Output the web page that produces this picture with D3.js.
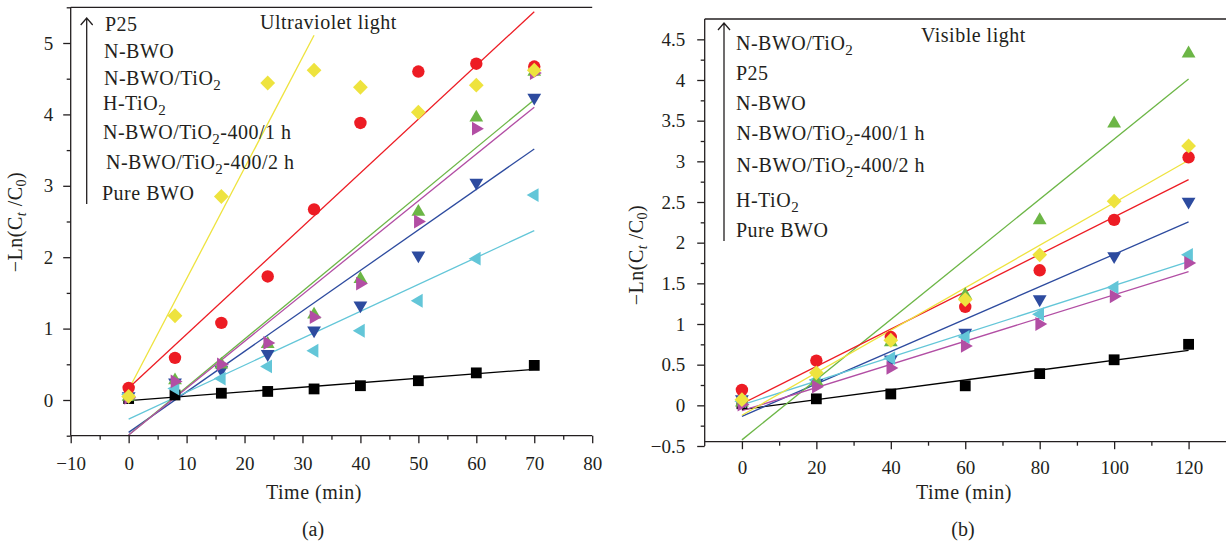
<!DOCTYPE html>
<html><head><meta charset="utf-8">
<script src="https://cdn.jsdelivr.net/npm/d3@7"></script>
<style>
body{margin:0;background:#fff}
svg{display:block}
text{font-family:'Liberation Serif','Times New Roman',serif;fill:#231f20}
.lbl{letter-spacing:0.5px}
</style>
</head><body><svg id="c" width="1226" height="544"></svg>
<script>
// ---------------- DATA ----------------
const seriesNames = ["P25","N-BWO","N-BWO/TiO2","H-TiO2","N-BWO/TiO2-400/1 h","N-BWO/TiO2-400/2 h","Pure BWO"];

// (a) Ultraviolet light
const uvTime     = [0,8,16,24,32,40,50,60,70];
const uvP25      = [0.05,1.18,2.85,4.44,4.62,4.38,4.03,4.41,4.62];
const uvNBWO     = [0.17,0.59,1.08,1.73,2.67,3.88,4.60,4.71,4.67];
const uvNBWOTiO2 = [0.05,0.28,0.50,0.79,1.20,1.70,2.64,3.96,4.60];
const uvHTiO2    = [0.03,0.26,0.50,0.80,1.16,1.63,2.50,3.80,4.58];
const uv400_1h   = [0.05,0.24,0.42,0.64,0.97,1.32,2.02,3.04,4.23];
const uv400_2h   = [0.08,0.16,0.30,0.47,0.69,0.97,1.39,1.98,2.87];
const uvPureBWO  = [0.02,0.07,0.095,0.12,0.155,0.20,0.27,0.38,0.485];
const uvFitCount = [5,9,9,9,9,9,9]; // number of leading points used by each linear fit
const uvLegend   = ["P25","N-BWO","N-BWO/TiO2","H-TiO2","N-BWO/TiO2-400/1 h","N-BWO/TiO2-400/2 h","Pure BWO"];

// (b) Visible light
const visTime     = [0,20,40,60,80,100,120];
const visNBWOTiO2 = [0.04,0.30,0.78,1.36,2.28,3.47,4.33];
const visP25      = [0.07,0.40,0.80,1.30,1.85,2.51,3.19];
const visNBWO     = [0.19,0.55,0.84,1.21,1.66,2.28,3.05];
const vis400_1h   = [0.07,0.27,0.56,0.89,1.30,1.83,2.50];
const vis400_2h   = [0.05,0.31,0.58,0.84,1.12,1.45,1.85];
const visHTiO2    = [0.01,0.23,0.46,0.73,1.00,1.34,1.75];
const visPureBWO  = [0.02,0.08,0.14,0.24,0.39,0.56,0.75];
const visFitCount = [7,7,7,7,7,7,7];
const visLegend   = ["N-BWO/TiO2","P25","N-BWO","N-BWO/TiO2-400/1 h","N-BWO/TiO2-400/2 h","H-TiO2","Pure BWO"];

// tick labels
const uvXTicks  = [-10,0,10,20,30,40,50,60,70,80];
const uvYTicks  = [0,1,2,3,4,5];
const visXTicks = [0,20,40,60,80,100,120];
const visYTicks = [-0.5,0,0.5,1,1.5,2,2.5,3,3.5,4,4.5];

// ---------------- STYLE ----------------
const styleOf = {
  "P25":               {color:"#eee33e", shape:"diamond"},
  "N-BWO":             {color:"#ed1c24", shape:"circle"},
  "N-BWO/TiO2":        {color:"#6cb646", shape:"up"},
  "H-TiO2":            {color:"#b24ea4", shape:"right"},
  "N-BWO/TiO2-400/1 h":{color:"#2d4b9f", shape:"down"},
  "N-BWO/TiO2-400/2 h":{color:"#63c6d8", shape:"left"},
  "Pure BWO":          {color:"#000000", shape:"square"}
};
const drawOrder = ["Pure BWO","N-BWO/TiO2-400/1 h","N-BWO/TiO2-400/2 h","N-BWO/TiO2","H-TiO2","N-BWO","P25"];

function markerPath(shape){
  switch(shape){
    case "circle":  return d3.symbol(d3.symbolCircle, Math.PI*6.2*6.2)();
    case "square":  return "M-5.4,-5.4H5.4V5.4H-5.4Z";
    case "diamond": return "M0,-7.4L7.4,0L0,7.4L-7.4,0Z";
    case "up":      return "M0,-7.6L6.9,4.3L-6.9,4.3Z";
    case "down":    return "M0,7.6L6.9,-4.3L-6.9,-4.3Z";
    case "left":    return "M-7.6,0L4.3,-6.9L4.3,6.9Z";
    case "right":   return "M7.6,0L-4.3,-6.9L-4.3,6.9Z";
  }
}

function linFit(xs, ys){
  const n = xs.length, mx = d3.mean(xs), my = d3.mean(ys);
  let sxy = 0, sxx = 0;
  for(let i=0;i<n;i++){ sxy += (xs[i]-mx)*(ys[i]-my); sxx += (xs[i]-mx)*(xs[i]-mx); }
  const b = sxy/sxx; return {b, a: my - b*mx};
}

function rich(t, str, subSize, shift){
  const parts = str.split("TiO2"); let shifted = false;
  parts.forEach((p,i)=>{
    const seg = p + (i < parts.length-1 ? "TiO" : "");
    if(seg){ const s = t.append("tspan").text(seg); if(shifted){ s.attr("dy", -shift); shifted = false; } }
    if(i < parts.length-1){ t.append("tspan").attr("dy", shift).attr("font-size", subSize+"px").text("2"); shifted = true; }
  });
}

const svg = d3.select("#c");
const minus = v => v < 0 ? "\u2212" + Math.abs(v) : String(v);

function yTitle(x, y){
  const t = svg.append("text").attr("class","lbl").attr("transform", `translate(${x},${y}) rotate(-90)`)
    .attr("text-anchor","middle").attr("font-size","20px");
  t.append("tspan").text("\u2212Ln(C");
  t.append("tspan").attr("dy",4).attr("font-size","14px").attr("font-style","italic").text("t");
  t.append("tspan").attr("dy",-4).text(" /C");
  t.append("tspan").attr("dy",4).attr("font-size","14px").text("0");
  t.append("tspan").attr("dy",-4).text(")");
}

function panel(cfg){
  const g = svg.append("g");
  const x = cfg.x, y = cfg.y;
  // fit lines
  drawOrder.forEach(name=>{
    const i = cfg.names.indexOf(name);
    const ys = cfg.values[i], n = cfg.fitCount[i];
    const f = linFit(cfg.time.slice(0,n), ys.slice(0,n));
    const t0 = cfg.time[0], t1 = cfg.time[n-1];
    g.append("line")
      .attr("x1", x(t0)).attr("y1", y(f.a + f.b*t0))
      .attr("x2", x(t1)).attr("y2", y(f.a + f.b*t1))
      .attr("stroke", styleOf[name].color).attr("stroke-width", 1.3);
  });
  // markers
  drawOrder.forEach(name=>{
    const i = cfg.names.indexOf(name);
    const st = styleOf[name];
    g.selectAll(null).data(cfg.time.map((t,k)=>[t, cfg.values[i][k]])).enter()
      .append("path").attr("d", markerPath(st.shape))
      .attr("transform", d=>`translate(${x(d[0])},${y(d[1])})`)
      .attr("fill", st.color);
  });
  // axes
  const ax = g.append("g").attr("transform", `translate(0,${cfg.xAxisY})`);
  ax.call(d3.axisBottom(x).tickValues(cfg.xMinor).tickSize(4).tickSizeOuter(0).tickFormat(""));
  ax.append("g").call(d3.axisBottom(x).tickValues(cfg.xTicks).tickSize(7.5).tickSizeOuter(0)
      .tickPadding(cfg.xPad).tickFormat(minus));
  const ay = g.append("g").attr("transform", `translate(${x.range()[0]},0)`);
  ay.call(d3.axisLeft(y).tickValues(cfg.yMinor).tickSize(4).tickSizeOuter(0).tickFormat(""));
  ay.append("g").call(d3.axisLeft(y).tickValues(cfg.yTicks).tickSize(7.5).tickSizeOuter(0)
      .tickPadding(cfg.yPad).tickFormat(minus));
  [ax, ay].forEach(a=>{
    a.selectAll(".domain, line").attr("stroke","#231f20").attr("stroke-width",1.3);
    a.selectAll("text").attr("font-family","'Liberation Serif','Times New Roman',serif")
      .attr("font-size","19px").attr("fill","#231f20");
  });
  ay.selectAll(".domain").remove();
  ax.selectAll(".domain").remove();
  g.append("line").attr("x1",x.range()[0]).attr("x2",cfg.xEnd).attr("y1",cfg.xAxisY).attr("y2",cfg.xAxisY)
    .attr("stroke","#231f20").attr("stroke-width",1.3);
  g.append("line").attr("x1",x.range()[0]).attr("x2",x.range()[0]).attr("y1",y.range()[1]).attr("y2",y.range()[0])
    .attr("stroke","#231f20").attr("stroke-width",1.3);
  // top frame line
  g.append("line").attr("x1",x.range()[0]).attr("x2",cfg.xEnd).attr("y1",y.range()[1]).attr("y2",y.range()[1])
    .attr("stroke","#231f20").attr("stroke-width",1.3);
  // legend arrow
  const ar = cfg.arrow;
  g.append("path").attr("d",`M${ar[0]},${ar[2]}V${ar[1]}M${ar[0]-6},${ar[1]+7}L${ar[0]},${ar[1]}L${ar[0]+6},${ar[1]+7}`)
    .attr("fill","none").attr("stroke","#231f20").attr("stroke-width",1.3);
  cfg.legend.forEach((lab,k)=>{
    const t = g.append("text").attr("class","lbl").attr("x", cfg.legX[k]).attr("y", cfg.legY[k]).attr("font-size","20px");
    rich(t, lab, 15, 5);
  });
  g.append("text").attr("class","lbl").attr("x", cfg.titlePos[0]).attr("y", cfg.titlePos[1]).attr("font-size","20px").text(cfg.title);
  g.append("text").attr("class","lbl").attr("x", cfg.xTitlePos[0]).attr("y", cfg.xTitlePos[1]).attr("text-anchor","middle")
    .attr("font-size","20px").text("Time (min)");
  g.append("text").attr("x", cfg.subPos[0]).attr("y", cfg.subPos[1]).attr("text-anchor","middle")
    .attr("font-size","20px").text(cfg.sub);
}

// (a)
panel({
  names: seriesNames,
  time: uvTime,
  values: [uvP25, uvNBWO, uvNBWOTiO2, uvHTiO2, uv400_1h, uv400_2h, uvPureBWO],
  fitCount: uvFitCount,
  x: d3.scaleLinear().domain([-10,80]).range([70.7,592.2]),
  y: d3.scaleLinear().domain([-0.5,5.5]).range([435.7,7.3]),
  xAxisY: 435.7, xEnd: 592.2,
  xTicks: uvXTicks, xMinor: d3.range(-5,80,10),
  yTicks: uvYTicks, yMinor: d3.range(-0.5,5.6,1),
  xPad: 13, yPad: 10,
  arrow: [86.7, 18, 204],
  legend: uvLegend,
  legX: [105,104,104,103,103,106,102],
  legY: [31,58,85,109.5,138.5,168.5,200],
  title: "Ultraviolet light", titlePos: [260, 28.5],
  xTitlePos: [314, 499], sub: "(a)", subPos: [313, 536]
});

// (b)
panel({
  names: seriesNames,
  time: visTime,
  values: [visP25, visNBWO, visNBWOTiO2, visHTiO2, vis400_1h, vis400_2h, visPureBWO],
  fitCount: visFitCount,
  x: d3.scaleLinear().domain([-10,130]).range([704.7,1225.8]),
  y: d3.scaleLinear().domain([-0.5,4.75]).range([446,19]),
  xAxisY: 441.7, xEnd: 1226,
  xTicks: visXTicks, xMinor: d3.range(10,120,20),
  yTicks: visYTicks, yMinor: d3.range(-0.25,4.5,0.5),
  xPad: 11.5, yPad: 12,
  arrow: [724, 23, 241],
  legend: visLegend,
  legX: [736,736,736,736.5,736.5,736,736],
  legY: [50,80,109.5,140,171.5,206.5,236.5],
  title: "Visible light", titlePos: [921, 41.5],
  xTitlePos: [964, 499], sub: "(b)", subPos: [963, 536]
});

yTitle(22, 222);
yTitle(643, 255);
</script></body></html>
